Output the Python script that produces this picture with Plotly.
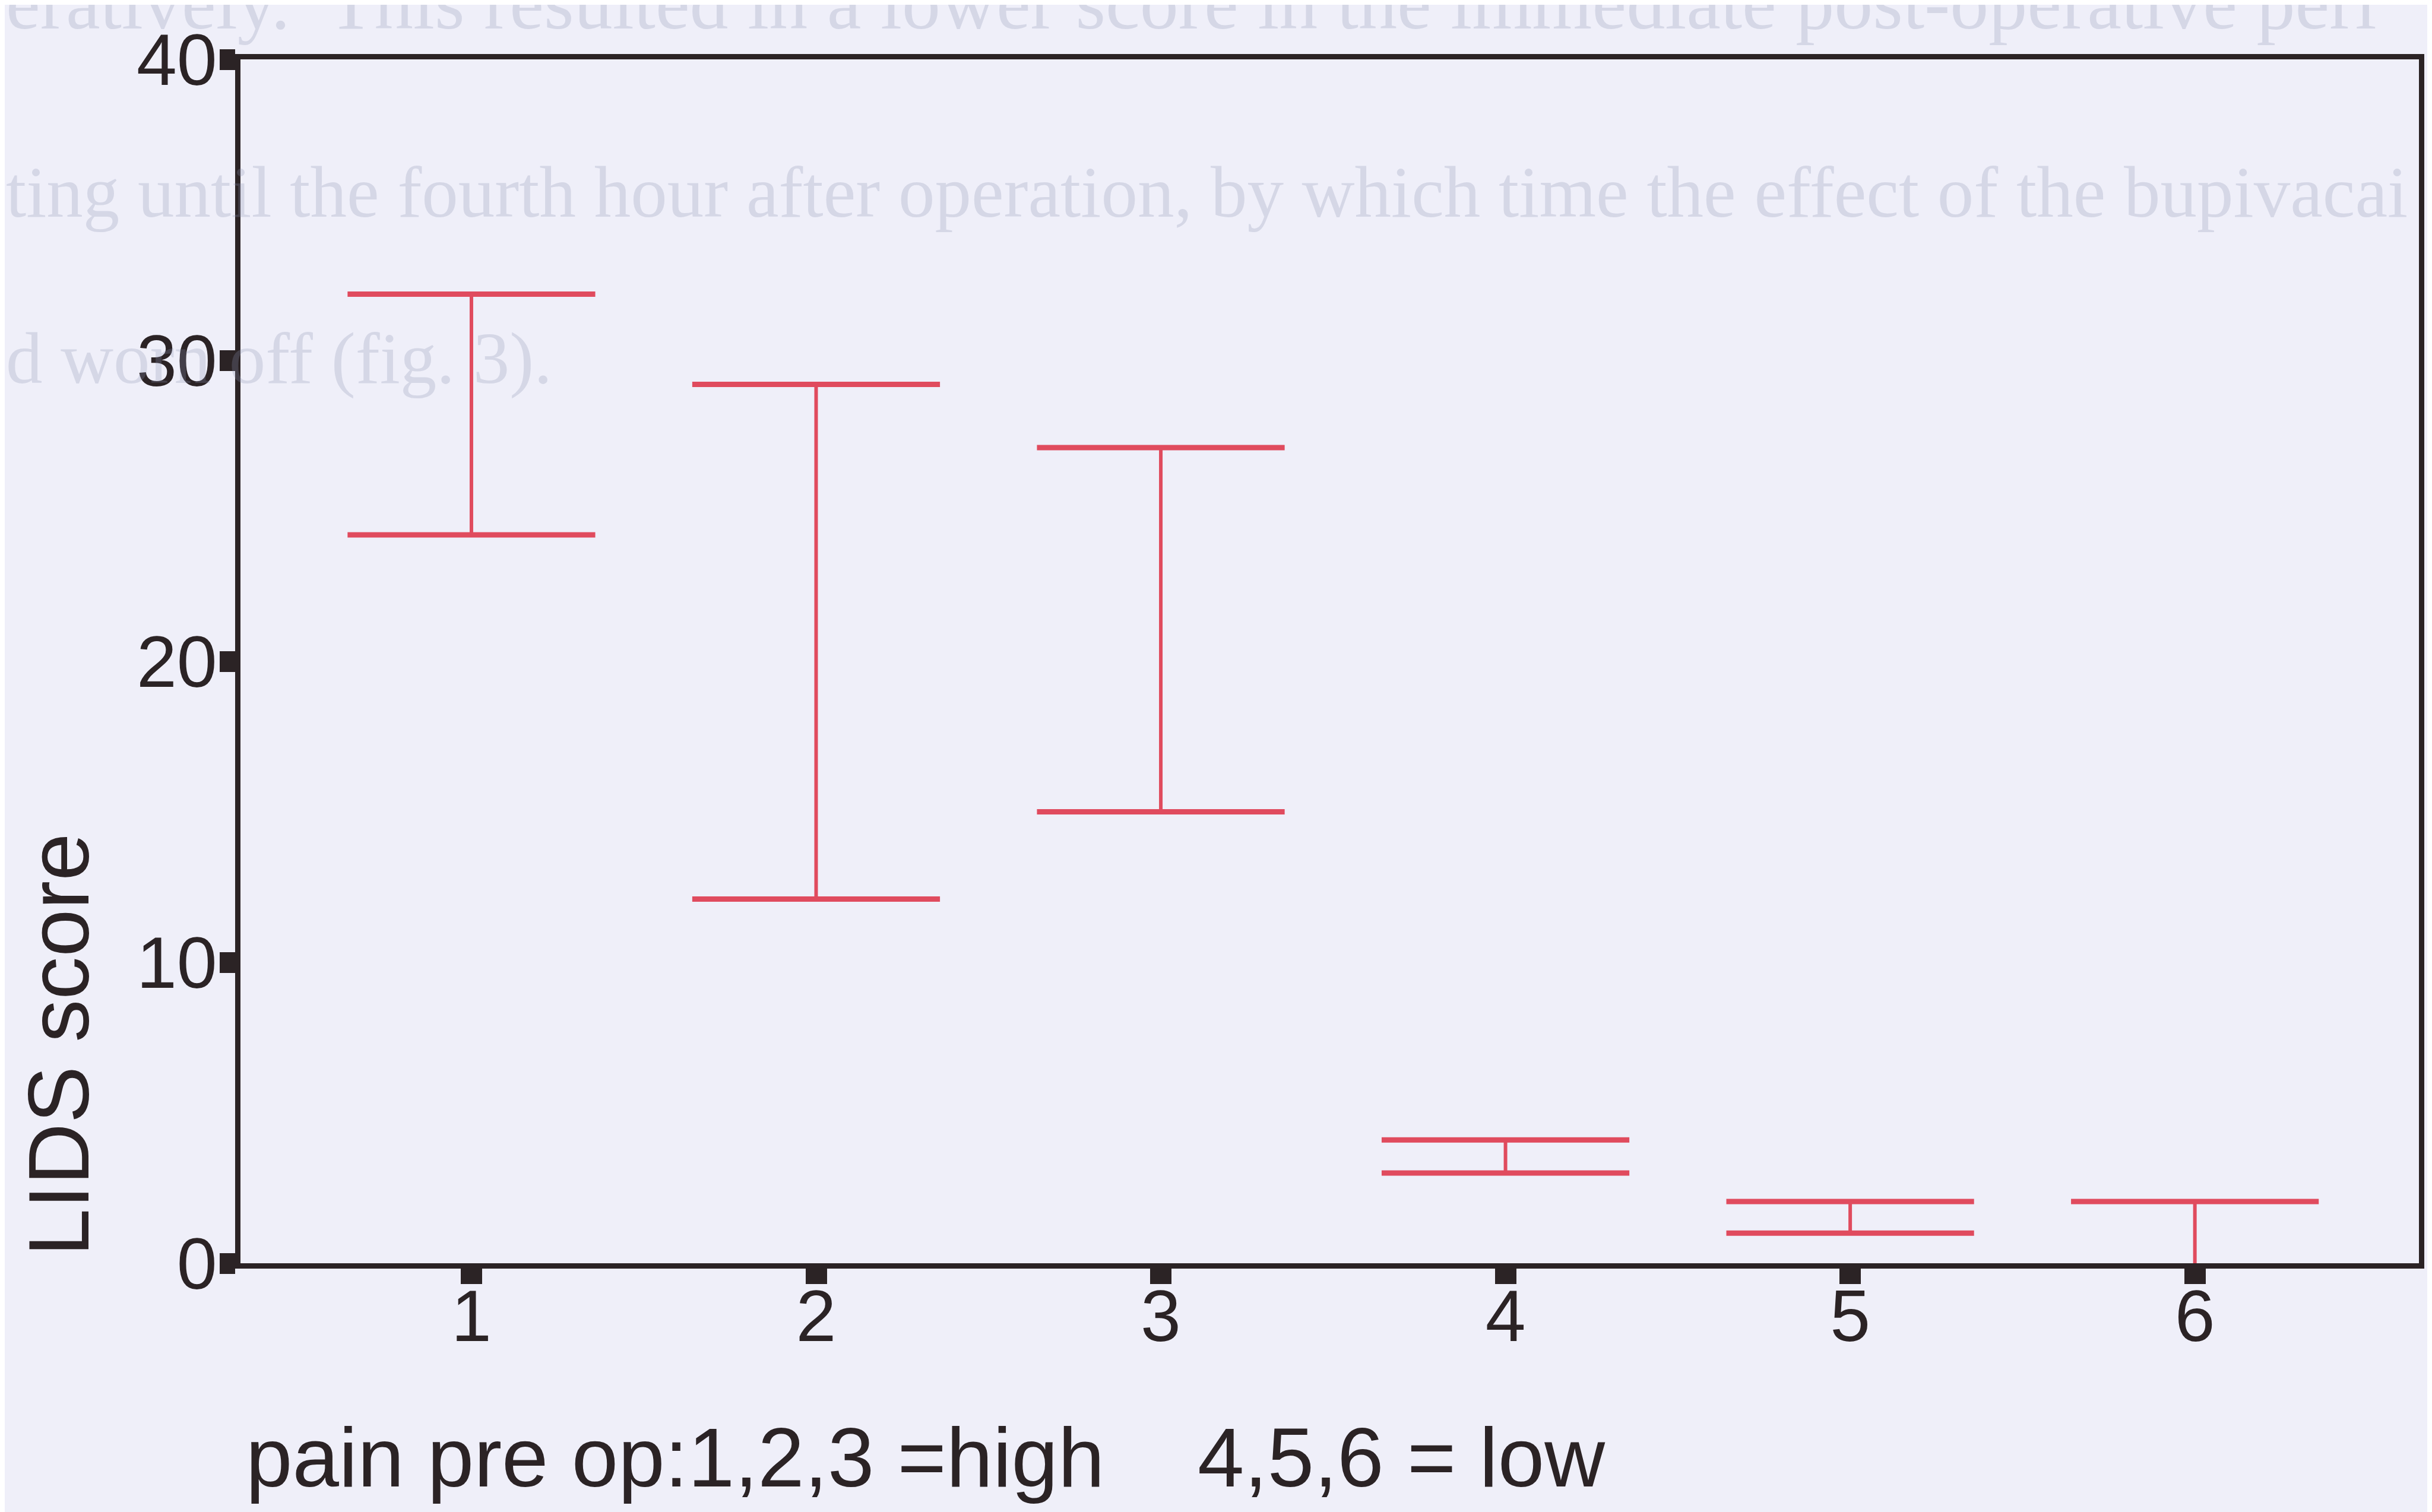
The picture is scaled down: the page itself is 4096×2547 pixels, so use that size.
import plotly.graph_objects as go

# ---- data ----
groups = [1, 2, 3, 4, 5, 6]
lower = [24.2, 12.1, 15.0, 3.0, 1.0, -0.2]
upper = [32.2, 29.2, 27.1, 4.1, 2.05, 2.05]
y_ticks = [0, 10, 20, 30, 40]
x_title = "pain pre op:1,2,3 =high\u00a0\u00a0\u00a0 4,5,6 = low"
y_title = "LIDS score"
bleed_lines = [
    "eratively.  This resulted in a lower score in the immediate post-operative peri",
    "ting until the fourth hour after operation, by which time the effect of the bupivacai",
    "d worn off (fig. 3).",
]

# ---- layout constants (output pixels) ----
W, H = 4096, 2547
L, R, T, B = 397, 30, 92, 427
PW, PH = W - L - R, H - T - B
RED = "#E04B5E"
INK = "#2B2325"
BG = "#EFEFF9"
FONT = "Liberation Sans, Arial, sans-serif"


def px(x):
    return (x - L) / PW


def py(y):
    return (H - B - y) / PH


fig = go.Figure()

# stems
fig.add_trace(go.Scatter(
    x=groups, y=lower, mode="markers",
    marker=dict(size=1, opacity=0),
    error_y=dict(type="data", symmetric=False,
                 array=[u - l for u, l in zip(upper, lower)],
                 arrayminus=[0] * len(groups),
                 width=0, thickness=6, color=RED),
    hoverinfo="skip", showlegend=False,
))
# caps
fig.add_trace(go.Scatter(
    x=groups + groups, y=lower + upper, mode="markers",
    marker=dict(symbol="line-ew", size=298, color=RED,
                line=dict(color=RED, width=9)),
    hoverinfo="skip", showlegend=False, cliponaxis=True,
))

ann = []
# faint show-through text of the scanned page
bleed_y = [70, 386, 666]
bleed_size = [130, 123, 123]
for txt, yb, fs in zip(bleed_lines, bleed_y, bleed_size):
    ann.append(dict(text=txt, x=px(0), y=py(yb), xref="paper", yref="paper",
                    xanchor="left", yanchor="bottom", showarrow=False,
                    font=dict(family="Liberation Serif, Times New Roman, serif",
                              size=fs, color="rgba(140,146,178,0.26)")))

ann.append(dict(text=y_title, x=px(91), y=py(1752), xref="paper", yref="paper",
                xanchor="center", yanchor="middle", textangle=-90, showarrow=False,
                font=dict(family=FONT, size=144, color=INK)))
ann.append(dict(text=x_title, x=px(404), y=py(2447), xref="paper", yref="paper",
                xanchor="left", yanchor="middle", showarrow=False,
                font=dict(family=FONT, size=141, color=INK)))

fig.update_layout(
    width=W, height=H,
    margin=dict(l=L, r=R, t=T, b=B, pad=0),
    paper_bgcolor=BG, plot_bgcolor=BG,
    annotations=ann,
    showlegend=False,
)
axis_common = dict(showline=True, linecolor=INK, linewidth=9, mirror=True,
                   showgrid=False, zeroline=False,
                   ticks="outside", ticklen=26, tickcolor=INK,
                   tickfont=dict(family=FONT, size=122, color=INK))
fig.update_xaxes(range=[0.33, 6.65], tickvals=groups, tickwidth=36,
                 ticklabelstandoff=-50, **axis_common)
fig.update_yaxes(range=[0, 40], tickvals=y_ticks, tickwidth=35,
                 ticklabelstandoff=-20, **axis_common)

fig.write_html("out.html")
